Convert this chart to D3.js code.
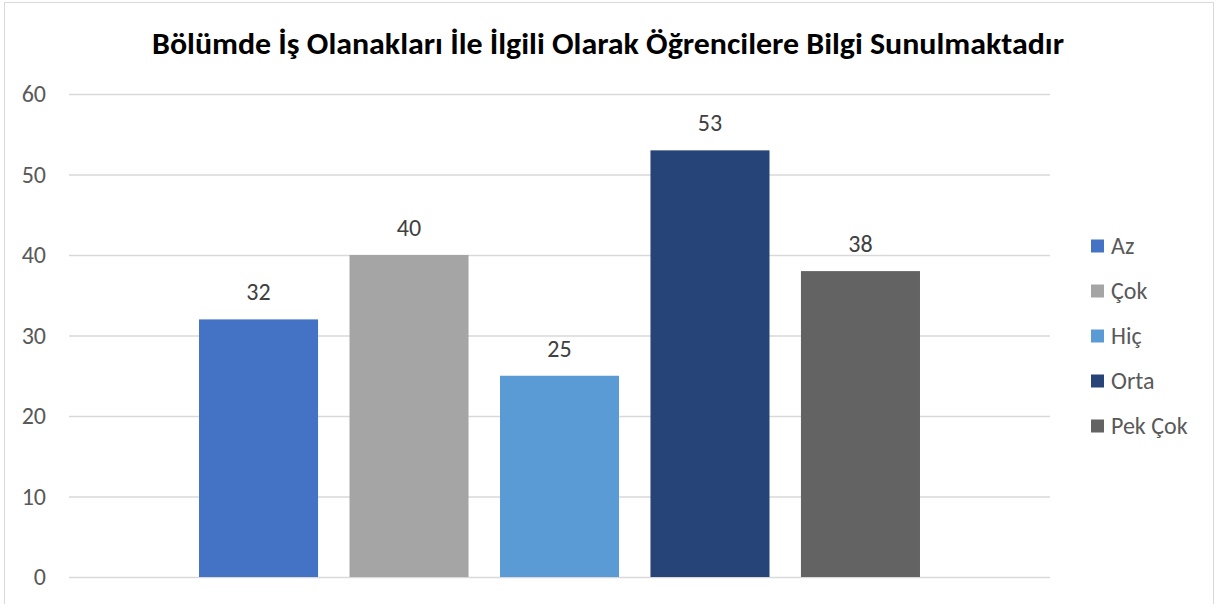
<html>
<head>
<meta charset="utf-8">
<script src="https://cdn.jsdelivr.net/npm/d3@7/dist/d3.min.js"></script>
<style>
    body { margin: 0; background: #fff; }
    text { font-family: Carlito, Calibri, "Open Sans", "Noto Sans", sans-serif; }
</style>
</head>
<body>
<svg id="chart" width="1215" height="604"></svg>
<script>
const title = "Bölümde İş Olanakları İle İlgili Olarak Öğrencilere Bilgi Sunulmaktadır";
const seriesNames = ["Az", "Çok", "Hiç", "Orta", "Pek Çok"];
const seriesValues = [32, 40, 25, 53, 38];
const seriesColors = ["#4472C4", "#A5A5A5", "#5B9BD5", "#264478", "#636363"];
const yTicks = [0, 10, 20, 30, 40, 50, 60];

const svg = d3.select("#chart");

// outer chart border
svg.append("rect")
    .attr("x", 4.5).attr("y", 2.5)
    .attr("width", 1209).attr("height", 610)
    .attr("fill", "#fff").attr("stroke", "#d9d9d9").attr("stroke-width", 1);

const plot = {left: 69, right: 1050, top: 94, bottom: 577};

const y = d3.scaleLinear().domain([0, 60]).range([plot.bottom, plot.top]);
const x = d3.scaleBand().domain(seriesNames)
    .range([plot.left, plot.right])
    .paddingInner(0.209).paddingOuter(0.864);

// gridlines
svg.append("g").selectAll("line").data(yTicks).join("line")
    .attr("x1", plot.left).attr("x2", plot.right)
    .attr("y1", d => y(d) + 0.5).attr("y2", d => y(d) + 0.5)
    .attr("stroke", "#d9d9d9").attr("stroke-width", 1.3);

// y axis labels
const yAxis = svg.append("g").attr("transform", `translate(${plot.left - 23},0)`)
    .call(d3.axisLeft(y).tickValues(yTicks).tickSize(0).tickPadding(0));
yAxis.select(".domain").remove();
yAxis.selectAll("text")
    .attr("fill", "#595959").style("font-size", "24px")
    .style("font-family", "Carlito, Calibri, 'Open Sans', sans-serif");

// bars
svg.append("g").selectAll("rect").data(seriesNames).join("rect")
    .attr("x", d => x(d))
    .attr("width", x.bandwidth())
    .attr("y", (d, i) => y(seriesValues[i]))
    .attr("height", (d, i) => y(0) - y(seriesValues[i]))
    .attr("fill", (d, i) => seriesColors[i]);

// data labels
svg.append("g").selectAll("text").data(seriesNames).join("text")
    .attr("x", d => x(d) + x.bandwidth() / 2)
    .attr("y", (d, i) => y(seriesValues[i]) - 19)
    .attr("text-anchor", "middle")
    .attr("fill", "#404040").style("font-size", "24px")
    .text((d, i) => seriesValues[i]);

// title
const t = svg.append("text")
    .attr("x", 608).attr("y", 54)
    .attr("text-anchor", "middle")
    .attr("fill", "#000").style("font-size", "31px").style("font-weight", "bold")
    .text(title);
// keep the width Calibri gives
t.attr("textLength", 912).attr("lengthAdjust", "spacingAndGlyphs");

// legend
const legend = svg.append("g").selectAll("g").data(seriesNames).join("g")
    .attr("transform", (d, i) => `translate(1091,${246 + i * 45})`);
legend.append("rect")
    .attr("x", 0).attr("y", -6.5).attr("width", 13).attr("height", 13)
    .attr("fill", (d, i) => seriesColors[i]);
legend.append("text")
    .attr("x", 20).attr("y", 0).attr("dy", "0.35em")
    .attr("fill", "#595959").style("font-size", "24px")
    .text(d => d);
</script>
</body>
</html>
